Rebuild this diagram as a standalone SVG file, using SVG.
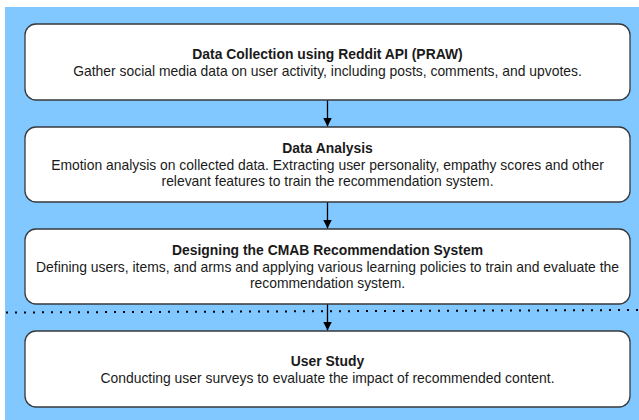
<svg xmlns="http://www.w3.org/2000/svg" width="639" height="420" viewBox="0 0 639 420">
<style>
.box{fill:#ffffff;stroke:#36393d;stroke-width:1.3}
.t{font-family:"Liberation Sans",Arial,sans-serif;font-size:13.9px;text-anchor:middle;fill:#1a1a1a}
.b{font-weight:bold}
.edge{stroke:#000;stroke-width:1.3;fill:none}
</style>
<defs>
<marker id="arr" viewBox="0 0 10 10" refX="10" refY="5" markerWidth="9" markerHeight="9" markerUnits="userSpaceOnUse" orient="auto">
<path d="M0,0 L10,5 L0,10 Z" fill="#000"/>
</marker>
</defs>
<rect x="0" y="0" width="639" height="420" fill="#ffffff"/>
<rect x="5" y="7" width="634" height="413" fill="#80c8ff"/>
<g id="connectors">
<line class="edge" x1="327.5" y1="100" x2="327.5" y2="126.5" marker-end="url(#arr)"/>
<line class="edge" x1="327.5" y1="202" x2="327.5" y2="228.5" marker-end="url(#arr)"/>
<line class="edge" x1="327.5" y1="304" x2="327.5" y2="330.5" marker-end="url(#arr)"/>
</g>
<line x1="6" y1="312.5" x2="639" y2="310" stroke="#000" stroke-width="2" stroke-dasharray="2 7"/>
<g id="n1">
<rect class="box" x="25" y="24" width="605" height="76" rx="11"/>
<text class="t b" x="327.5" y="59">Data Collection using Reddit API (PRAW)</text>
<text class="t" x="327.5" y="76">Gather social media data on user activity, including posts, comments, and upvotes.</text>
</g>
<g id="n2">
<rect class="box" x="25" y="127" width="605" height="75" rx="11"/>
<text class="t b" x="327.5" y="153">Data Analysis</text>
<text class="t" x="327.5" y="169.5">Emotion analysis on collected data. Extracting user personality, empathy scores and other</text>
<text class="t" x="327.5" y="186">relevant features to train the recommendation system.</text>
</g>
<g id="n3">
<rect class="box" x="25" y="229" width="605" height="75" rx="11"/>
<text class="t b" x="327.5" y="255">Designing the CMAB Recommendation System</text>
<text class="t" x="327.5" y="271.5">Defining users, items, and arms and applying various learning policies to train and evaluate the</text>
<text class="t" x="327.5" y="288">recommendation system.</text>
</g>
<g id="n4">
<rect class="box" x="25" y="331" width="605" height="76" rx="11"/>
<text class="t b" x="327.5" y="365.5">User Study</text>
<text class="t" x="327.5" y="382.5">Conducting user surveys to evaluate the impact of recommended content.</text>
</g>
</svg>
